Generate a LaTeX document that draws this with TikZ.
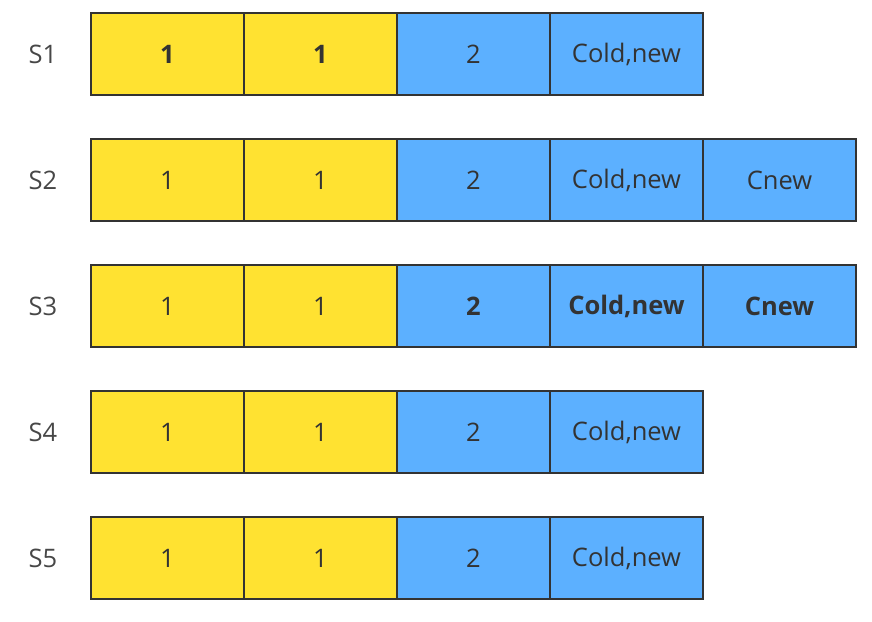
\documentclass[tikz,border=0pt]{standalone}
\usepackage{fontspec}
\setmainfont{Open Sans}
\usepackage{xcolor}
\usepackage{tikz}
\usetikzlibrary{positioning}
\definecolor{cellYellow}{HTML}{FFE231}
\definecolor{cellBlue}{HTML}{5CB0FF}
\definecolor{txtGray}{HTML}{333333}

\begin{document}
\begin{tikzpicture}[
        font=\fontsize{25.5}{28}\selectfont, node distance=44pt,
        cell/.style={draw=txtGray, line width=2.8pt, minimum width=153pt, minimum height=82pt,
                     inner sep=0pt, outer sep=0pt, text=txtGray},
        old/.style={cell, fill=cellYellow},
        new/.style={cell, fill=cellBlue},
        lbl/.style={text=txtGray!90, inner sep=0pt, anchor=center}]
        \useasboundingbox (0,0) rectangle (872pt,-621pt);
        % row S1
        \node[old, anchor=north west] (s1a) at (91pt,-13pt) {\textbf{1}};
        \node[old, right=0pt of s1a] (s1b) {\textbf{1}};
        \node[new, right=0pt of s1b] (s1c) {2};
        \node[new, right=0pt of s1c] (s1d) {Cold,new};
        % row S2
        \node[old, below=of s1a] (s2a) {1};
        \node[old, right=0pt of s2a] (s2b) {1};
        \node[new, right=0pt of s2b] (s2c) {2};
        \node[new, right=0pt of s2c] (s2d) {Cold,new};
        \node[new, right=0pt of s2d] (s2e) {Cnew};
        % row S3
        \node[old, below=of s2a] (s3a) {1};
        \node[old, right=0pt of s3a] (s3b) {1};
        \node[new, right=0pt of s3b] (s3c) {\textbf{2}};
        \node[new, right=0pt of s3c] (s3d) {\textbf{Cold,new}};
        \node[new, right=0pt of s3d] (s3e) {\textbf{Cnew}};
        % row S4
        \node[old, below=of s3a] (s4a) {1};
        \node[old, right=0pt of s4a] (s4b) {1};
        \node[new, right=0pt of s4b] (s4c) {2};
        \node[new, right=0pt of s4c] (s4d) {Cold,new};
        % row S5
        \node[old, below=of s4a] (s5a) {1};
        \node[old, right=0pt of s5a] (s5b) {1};
        \node[new, right=0pt of s5b] (s5c) {2};
        \node[new, right=0pt of s5c] (s5d) {Cold,new};
        % server labels
        \node[lbl] (l1) at (43pt,0 |- s1a) {S1};
        \node[lbl] (l2) at (43pt,0 |- s2a) {S2};
        \node[lbl] (l3) at (43pt,0 |- s3a) {S3};
        \node[lbl] (l4) at (43pt,0 |- s4a) {S4};
        \node[lbl] (l5) at (43pt,0 |- s5a) {S5};
      \end{tikzpicture}
\end{document}
